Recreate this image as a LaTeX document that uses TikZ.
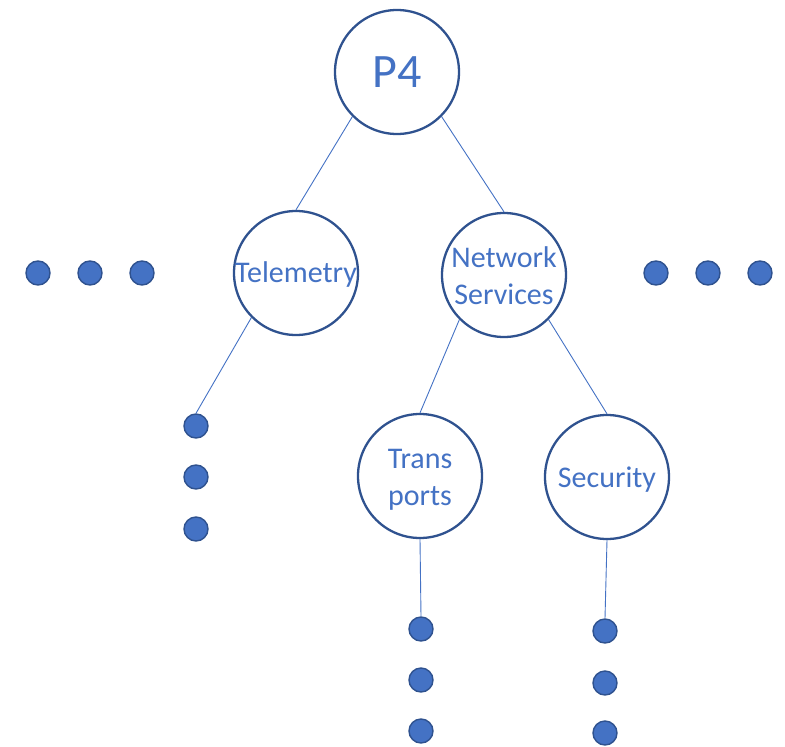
\documentclass[tikz,border=0pt]{standalone}
\usepackage{fontspec}
\setmainfont{Carlito}
\definecolor{lineblue}{HTML}{4472C4}
\definecolor{rimblue}{HTML}{2F528F}
\begin{document}
\begin{tikzpicture}[x=1pt,y=-1pt,
  topic/.style={circle,draw=rimblue,line width=2.3pt,fill=white,minimum size=124pt,inner sep=0pt},
  caption/.style={text=lineblue,font=\fontsize{30}{37}\selectfont,align=center,inner sep=0pt},
  dot/.style={circle,draw=rimblue,line width=1.4pt,fill=lineblue,minimum size=24pt,inner sep=0pt},
  link/.style={draw=lineblue,line width=0.9pt}]
\useasboundingbox (0,0) rectangle (785,747);
% tree nodes, each caption centred in its circle
\node[topic,label={[caption,font=\fontsize{48}{50}\selectfont]center:P4}] (p4) at (397,72) {};
\node[topic,label={[caption,yshift=-1pt]center:Telemetry}] (tel) at (296,273) {};
\node[topic,label={[caption,yshift=-1pt]center:{Network\\Services}}] (net) at (504,275) {};
\node[topic,label={[caption,yshift=-4pt]center:{Trans\\ports}}] (tra) at (420,476) {};
\node[topic,label={[caption,yshift=-3pt]center:Security}] (sec) at (607,477) {};
% ellipsis dots
\node[dot] (l1) at (38,273) {};
\node[dot] (l2) at (90,273) {};
\node[dot] (l3) at (142,273) {};
\node[dot] (r1) at (656,273) {};
\node[dot] (r2) at (708,273) {};
\node[dot] (r3) at (760,273) {};
\node[dot] (t1) at (196,426) {};
\node[dot] (t2) at (196,477) {};
\node[dot] (t3) at (196,529) {};
\node[dot] (a1) at (421,629) {};
\node[dot] (a2) at (421,680) {};
\node[dot] (a3) at (421,731) {};
\node[dot] (s1) at (605,631) {};
\node[dot] (s2) at (605,683) {};
\node[dot] (s3) at (605,733) {};
% connectors
\path[link] (p4.-135) -- (tel.north);
\path[link] (p4.-45) -- (net.north);
\path[link] (tel.-135) -- (t1.north);
\path[link] (net.-135) -- (tra.north);
\path[link] (net.-45) -- (sec.north);
\path[link] (tra.south) -- (a1.north);
\path[link] (sec.south) -- (s1.north);
\end{tikzpicture}
\end{document}
